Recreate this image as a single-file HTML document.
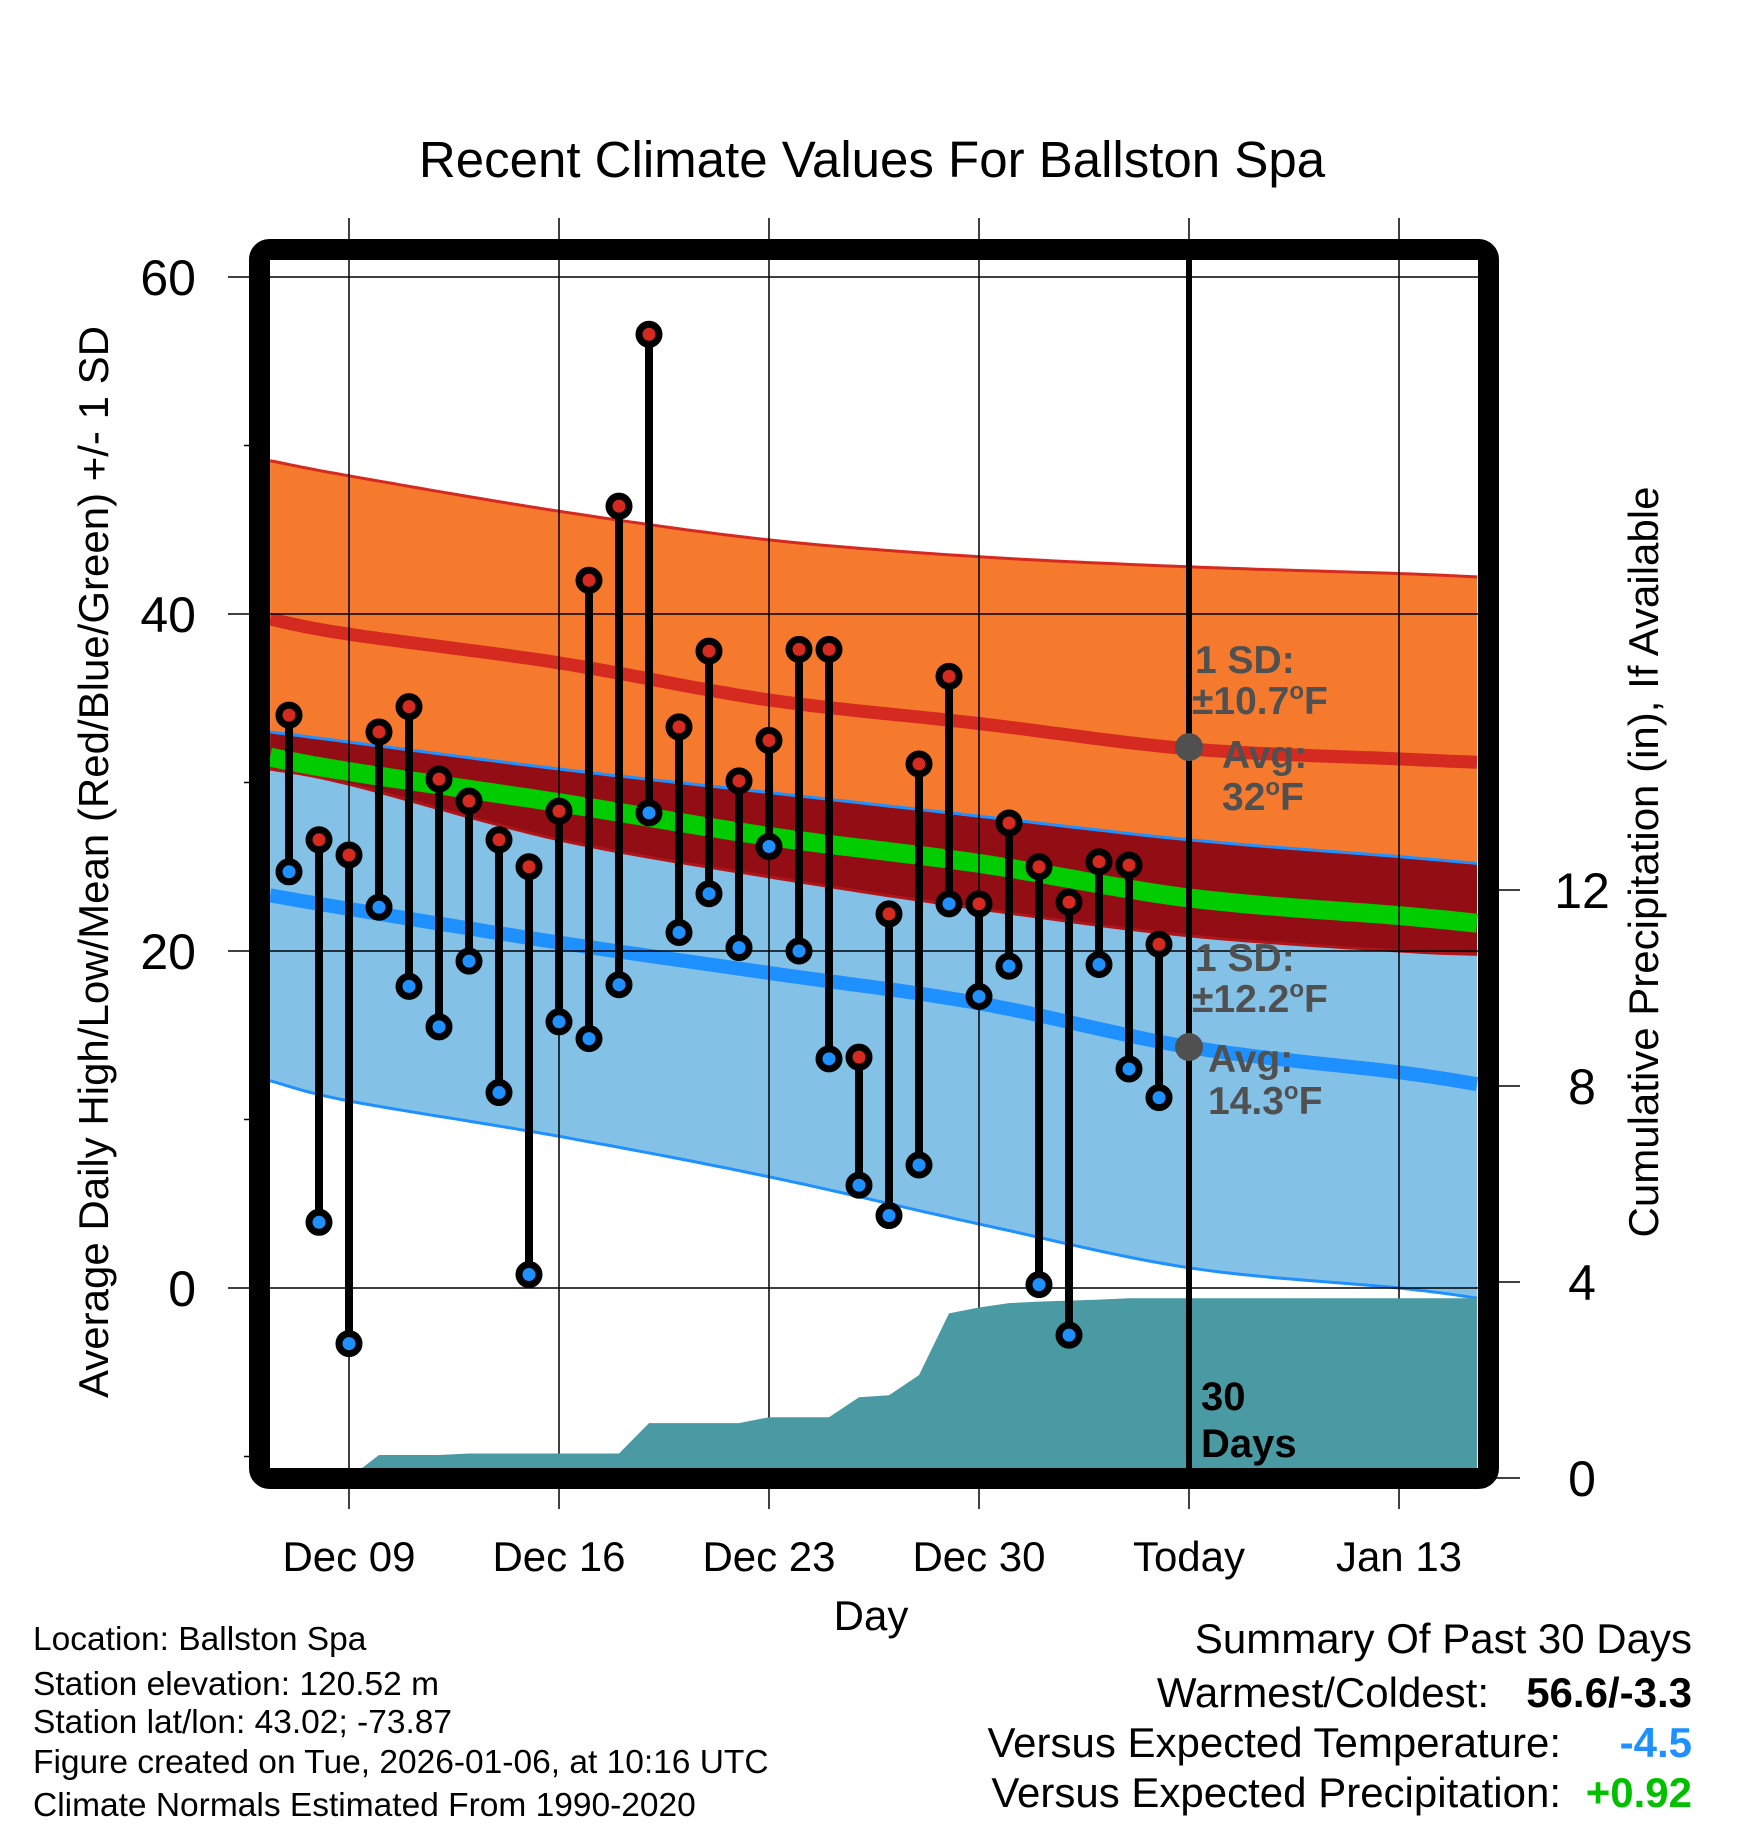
<!DOCTYPE html>
<html><head><meta charset="utf-8"><style>
body{margin:0;background:#fff}
svg{display:block;font-family:"Liberation Sans",Arial,sans-serif}
</style></head><body>
<svg id="chart" width="1748" height="1828" viewBox="0 0 1748 1828" xmlns="http://www.w3.org/2000/svg">
<defs><clipPath id="plotclip"><rect x="270" y="260" width="1208" height="1208"/></clipPath></defs>
<text x="872" y="177" text-anchor="middle" font-size="51">Recent Climate Values For Ballston Spa</text>
<g id="bands" clip-path="url(#plotclip)"></g>
<g id="grid"></g>
<g id="precip" clip-path="url(#plotclip)"></g>
<g id="marks"></g>
<g id="axes"></g>
<rect x="259.5" y="249.5" width="1229" height="1229" rx="10" fill="none" stroke="#000" stroke-width="21"/>
<g id="annot" font-weight="bold" fill="#505050" font-size="39">
<text x="1195" y="673">1 SD:</text>
<text x="1192" y="714">±10.7<tspan dy="-15" font-size="24">o</tspan><tspan dy="15">F</tspan></text>
<text x="1222" y="768">Avg:</text>
<text x="1222" y="810">32<tspan dy="-15" font-size="24">o</tspan><tspan dy="15">F</tspan></text>
<text x="1195" y="971">1 SD:</text>
<text x="1192" y="1012">±12.2<tspan dy="-15" font-size="24">o</tspan><tspan dy="15">F</tspan></text>
<text x="1208" y="1072">Avg:</text>
<text x="1208" y="1114">14.3<tspan dy="-15" font-size="24">o</tspan><tspan dy="15">F</tspan></text>
<text x="1201" y="1410" fill="#000" font-size="40">30</text>
<text x="1201" y="1457" fill="#000" font-size="40">Days</text>
</g>
<text transform="translate(108,862) rotate(-90)" text-anchor="middle" font-size="42">Average Daily High/Low/Mean (Red/Blue/Green) +/- 1 SD</text>
<text transform="translate(1658,862) rotate(-90)" text-anchor="middle" font-size="42">Cumulative Precipitation (in), If Available</text>
<text x="871" y="1630" text-anchor="middle" font-size="42">Day</text>
<g font-size="33.5">
<text x="33" y="1650">Location: Ballston Spa</text>
<text x="33" y="1695">Station elevation: 120.52 m</text>
<text x="33" y="1733">Station lat/lon: 43.02; -73.87</text>
<text x="33" y="1773">Figure created on Tue, 2026-01-06, at 10:16 UTC</text>
<text x="33" y="1816">Climate Normals Estimated From 1990-2020</text>
</g>
<g font-size="42" text-anchor="end">
<text x="1692" y="1653">Summary Of Past 30 Days</text>
<text x="1489" y="1707">Warmest/Coldest:</text>
<text x="1692" y="1707" font-weight="bold">56.6/-3.3</text>
<text x="1561" y="1757">Versus Expected Temperature:</text>
<text x="1692" y="1757" font-weight="bold" fill="#1e90ff">-4.5</text>
<text x="1561" y="1807">Versus Expected Precipitation:</text>
<text x="1692" y="1807" font-weight="bold" fill="#00c000">+0.92</text>
</g>
</svg>
<script>
// day offsets relative to Dec 09
const normDays = [-2.63, 0, 7, 14, 21, 28, 35, 37.6];
const highUpper = [49.1, 48.2, 46.1, 44.4, 43.4, 42.8, 42.4, 42.2];
const highMean  = [39.7, 38.8, 37.1, 34.9, 33.5, 32.0, 31.4, 31.2];
const highLower = [30.8, 29.9, 26.6, 24.4, 22.5, 20.9, 20.0, 19.8];
const lowUpper  = [33.0, 32.4, 30.8, 29.4, 28.0, 26.6, 25.6, 25.2];
const lowMean   = [23.3, 22.5, 20.5, 18.7, 16.9, 14.3, 12.8, 12.1];
const lowLower  = [12.3, 11.1, 9.0, 6.6, 3.8, 1.2, 0.0, -0.6];
const obsDays = [-2,-1,0,1,2,3,4,5,6,7,8,9,10,11,12,13,14,15,16,17,18,19,20,21,22,23,24,25,26,27];
const obsHigh = [34,26.6,25.7,33,34.5,30.2,28.9,26.6,25,28.3,42,46.4,56.6,33.3,37.8,30.1,32.5,37.9,37.9,13.7,22.2,31.1,36.3,22.8,27.6,25,22.9,25.3,25.1,20.4];
const obsLow  = [24.7,3.9,-3.3,22.6,17.9,15.5,19.4,11.6,0.8,15.8,14.8,18,28.2,21.1,23.4,20.2,26.2,20,13.6,6.1,4.3,7.3,22.8,17.3,19.1,0.2,-2.8,19.2,13,11.3];
const precipDays = [0,1,3,4,5,6,7,8,9,10,11,12,13,14,15,16,17,18,19,20,21,22,23,24,25,26,27,37.6];
const precipCum  = [0,0.47,0.47,0.5,0.5,0.5,0.5,0.5,0.5,1.12,1.12,1.12,1.12,1.24,1.24,1.24,1.65,1.69,2.1,3.36,3.48,3.57,3.6,3.62,3.64,3.67,3.67,3.67];
const xTickDays = [0,7,14,21,28,35];
const xTickLabels = ["Dec 09","Dec 16","Dec 23","Dec 30","Today","Jan 13"];
const yTicks = [0,20,40,60];
const yMinor = [-10,10,30,50];
const pTicks = [0,4,8,12];
const todayDay = 28;

const NS="http://www.w3.org/2000/svg";
const X = d => 349 + 30*d;
const Y = t => 1288 - 16.85*t;
const P = p => 1478 - 49*p;
function mk(parent, tag, attrs){const e=document.createElementNS(NS,tag);for(const k in attrs)e.setAttribute(k,attrs[k]);parent.appendChild(e);return e;}
// smooth (Catmull-Rom) sampled curve through normal points
function smooth(arr){
  const P0=normDays.map((d,i)=>[X(d),Y(arr[i])]);
  const out=[];
  for(let i=0;i<P0.length-1;i++){
    const p0=P0[Math.max(0,i-1)],p1=P0[i],p2=P0[i+1],p3=P0[Math.min(P0.length-1,i+2)];
    for(let s=0;s<20;s++){
      const t=s/20,t2=t*t,t3=t2*t;
      const f=(a,b,c,d)=>0.5*((2*b)+(-a+c)*t+(2*a-5*b+4*c-d)*t2+(-a+3*b-3*c+d)*t3);
      out.push(f(p0[0],p1[0],p2[0],p3[0]).toFixed(1)+","+f(p0[1],p1[1],p2[1],p3[1]).toFixed(1));
    }
  }
  const l=P0[P0.length-1];out.push(l[0].toFixed(1)+","+l[1].toFixed(1));
  return out;
}
function band(a,b){return smooth(a).concat(smooth(b).reverse()).join(" ");}
const bands=document.getElementById('bands');
let e;
e=mk(bands,'polygon',{points:band(highUpper,highLower),fill:'#f57a2d'});


e=mk(bands,'polygon',{points:band(lowUpper,lowLower),fill:'#84c1e7'});


e=mk(bands,'polygon',{points:band(lowUpper,highLower),fill:'#930d14'});


const meanMid = highMean.map((v,i)=>(v+lowMean[i])/2);
function line(arr,col,w,name){const l=mk(bands,'polyline',{points:smooth(arr).join(" "),fill:'none',stroke:col,'stroke-width':w});}
line(highUpper,'#d42a1f',3,'high-upper-line');
line(highLower,'#b0151a',3,'high-lower-line');
line(highMean,'#d42a1f',13,'high-mean-line');
line(lowUpper,'#1e90ff',3,'low-upper-line');
line(lowLower,'#1e90ff',3,'low-lower-line');
line(lowMean,'#1e90ff',14,'low-mean-line');
line(meanMid,'#00cc00',19,'overall-mean-line');

const grid=document.getElementById('grid');
xTickDays.forEach((d,i)=>{
  e=mk(grid,'line',{x1:X(d),x2:X(d),y1:218,y2:1509,stroke:'#000','stroke-width':1.5});
  
  
});
yTicks.forEach(t=>{
  e=mk(grid,'line',{x1:228,x2:1478,y1:Y(t),y2:Y(t),stroke:'#000','stroke-width':1.5});
  
  
});

const pg=document.getElementById('precip');
let pp=[X(precipDays[0])+","+P(0)];
precipDays.forEach((d,i)=>pp.push(X(d)+","+P(precipCum[i]).toFixed(1)));
pp.push(X(precipDays[precipDays.length-1])+","+P(0));
e=mk(pg,'polygon',{points:pp.join(" "),fill:'#4a9aa4'});


e=mk(pg,'line',{x1:X(todayDay),x2:X(todayDay),y1:260,y2:1470,stroke:'#000','stroke-width':6});



const ann=document.getElementById('marks');
e=mk(ann,'circle',{cx:X(todayDay),cy:Y(32.1),r:14,fill:'#505050'});


e=mk(ann,'circle',{cx:X(todayDay),cy:Y(14.3),r:14,fill:'#505050'});


obsDays.forEach((d,i)=>{
  e=mk(ann,'line',{x1:X(d),x2:X(d),y1:Y(obsHigh[i]),y2:Y(obsLow[i]),stroke:'#000','stroke-width':8});
  
  
});
obsDays.forEach((d,i)=>{
  e=mk(ann,'circle',{cx:X(d),cy:Y(obsHigh[i]),r:10,fill:'#d42a1f',stroke:'#000','stroke-width':7});
  
  
  e=mk(ann,'circle',{cx:X(d),cy:Y(obsLow[i]),r:10,fill:'#1e90ff',stroke:'#000','stroke-width':7});
  
  
});

const ax=document.getElementById('axes');
yTicks.forEach(t=>{
  e=mk(ax,'text',{x:196,y:Y(t)+18,'text-anchor':'end','font-size':50});
  e.textContent=t;
  
  
});
yMinor.forEach(t=>{
  e=mk(ax,'line',{x1:244,x2:270,y1:Y(t),y2:Y(t),stroke:'#000','stroke-width':1.5});
  
  
});
pTicks.forEach(p=>{
  e=mk(ax,'line',{x1:1490,x2:1520,y1:P(p),y2:P(p),stroke:'#000','stroke-width':1.5});
  
  
  e=mk(ax,'text',{x:1582,y:P(p)+18,'text-anchor':'middle','font-size':50});
  e.textContent=p;
  
  
});
xTickDays.forEach((d,i)=>{
  e=mk(ax,'text',{x:X(d),y:1571,'text-anchor':'middle','font-size':42});
  e.textContent=xTickLabels[i];
  
  
});
</script>
</body></html>
